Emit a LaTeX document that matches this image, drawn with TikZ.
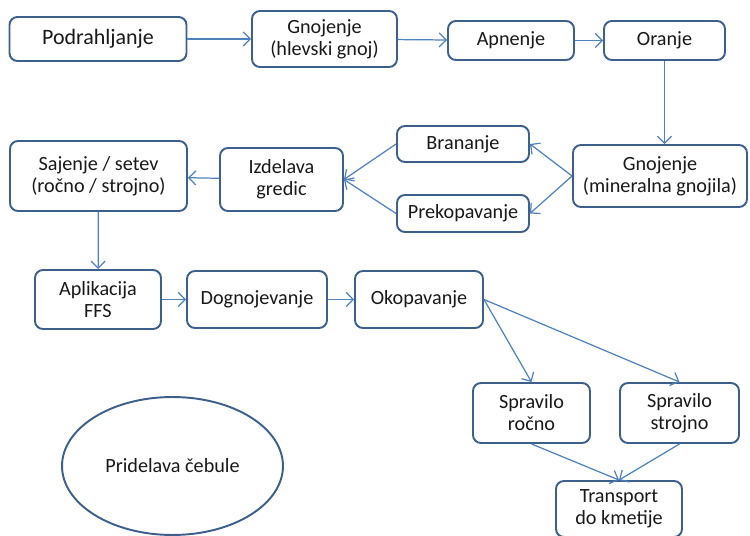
\documentclass[tikz,border=0pt]{standalone}
\usepackage{fontspec}
\setmainfont{Carlito}
\usepackage{tikz}
\usetikzlibrary{shapes,arrows,arrows.meta,positioning,calc}

\definecolor{boxline}{HTML}{3D5F8C}
\definecolor{linkline}{HTML}{4F81BD}

\tikzset{
  box/.style={draw=boxline, line width=1.1pt, rounded corners=4.5pt, fill=white,
    align=center, inner sep=1pt, text=black!90,
    font=\fontsize{11.5}{12.5}\selectfont},
  link/.style={draw=linkline, line width=0.7pt, -{Straight Barb[length=4pt,width=8pt]}},
}

\begin{document}
\begin{tikzpicture}[x=0.02cm, y=-0.02cm]
  \useasboundingbox (0,0) rectangle (750,536);
  %top row
  \node [box, minimum width=3.54cm, minimum height=0.88cm, font=\fontsize{12.5}{14}\selectfont] (podr) at (98,39) {Podrahljanje};
  \node [box, minimum width=2.9cm, minimum height=1.12cm] (hlev) at (324.5,39) {Gnojenje\\(hlevski gnoj)};
  \node [box, minimum width=2.52cm, minimum height=0.78cm] (apn) at (511,40.5) {Apnenje};
  \node [box, minimum width=2.42cm, minimum height=0.78cm] (oran) at (664.5,40.5) {Oranje};
  %middle row
  \node [box, minimum width=3.48cm, minimum height=1.24cm] (mingn) at (660,176) {Gnojenje\\(mineralna gnojila)};
  \node [box, minimum width=2.64cm, minimum height=0.72cm] (bran) at (463,144) {Brananje};
  \node [box, minimum width=2.64cm, minimum height=0.74cm] (prek) at (463,213.5) {Prekopavanje};
  \node [box, minimum width=2.46cm, minimum height=1.26cm] (izd) at (281.5,179.5) {Izdelava\\gredic};
  \node [box, minimum width=3.54cm, minimum height=1.4cm] (saj) at (98.5,176) {Sajenje / setev\\(ročno / strojno)};
  %lower row
  \node [box, minimum width=2.52cm, minimum height=1.18cm] (apl) at (98,299.5) {Aplikacija\\FFS};
  \node [box, minimum width=2.8cm, minimum height=1.14cm] (dogn) at (257,299.5) {Dognojevanje};
  \node [box, minimum width=2.56cm, minimum height=1.14cm] (okop) at (419,299.5) {Okopavanje};
  \node [box, minimum width=2.34cm, minimum height=1.2cm] (rocno) at (531.5,413) {Spravilo\\ročno};
  \node [box, minimum width=2.38cm, minimum height=1.2cm] (strojno) at (679.5,413) {Spravilo\\strojno};
  \node [box, minimum width=2.52cm, minimum height=1.12cm] (trans) at (619,509) {Transport\\do kmetije};
  \node [ellipse, draw=boxline, line width=1.1pt, minimum width=4.42cm, minimum height=2.76cm,
    text=black!90, font=\fontsize{11.5}{12.5}\selectfont] (title) at (172.5,466) {Pridelava čebule};

  \draw [link] (podr) -- (hlev);
  \draw [link] (hlev) -- (apn);
  \draw [link] (apn) -- (oran);
  \draw [link] (oran.south) -- (oran.south |- mingn.north);
  \draw [link] (mingn.west) -- (bran.east);
  \draw [link] (mingn.west) -- (prek.east);
  \draw [link] (bran.west) -- (izd.east);
  \draw [link] (prek.west) -- (izd.east);
  \draw [link] (izd) -- (saj);
  \draw [link] (saj) -- (apl);
  \draw [link] (apl) -- (dogn);
  \draw [link] (dogn) -- (okop);
  \draw [link] (okop.east) -- (rocno.north);
  \draw [link] (okop.east) -- (strojno.north);
  \draw [link] (rocno.south) -- (trans.north);
  \draw [link] (strojno.south) -- (trans.north);
\end{tikzpicture}
\end{document}
